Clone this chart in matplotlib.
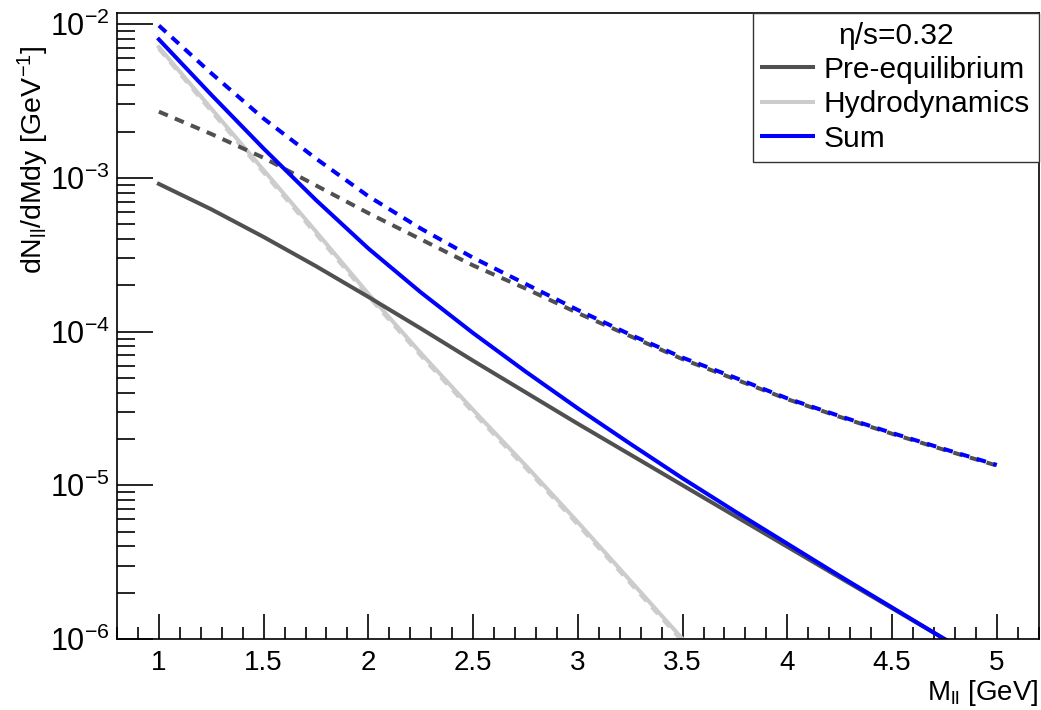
import numpy as np
import matplotlib
matplotlib.use('Agg')
import matplotlib.pyplot as plt
from matplotlib.ticker import FixedLocator, LogLocator, FuncFormatter, NullFormatter

plt.rcParams['font.family'] = ['Liberation Sans', 'DejaVu Sans']
plt.rcParams['mathtext.fontset'] = 'custom'
plt.rcParams['mathtext.rm'] = 'Liberation Sans'
plt.rcParams['mathtext.default'] = 'regular'

# invariant mass grid [GeV]
mass = [1.0, 1.25, 1.5, 1.75, 2.0, 2.25, 2.5, 2.75, 3.0, 3.25, 3.5, 3.75, 4.0, 4.25, 4.5, 4.75, 5.0]

# log10 of dN/dMdy
pre_solid = [-3.04, -3.205, -3.385, -3.575, -3.775, -3.98, -4.19, -4.395, -4.60, -4.80, -5.00, -5.20, -5.40, -5.60, -5.80, -6.00, -6.20]
hydro_solid = [-2.15, -2.55, -2.95, -3.35, -3.755, -4.14, -4.51, -4.87, -5.24, -5.62, -6.00, -6.38, -6.76, -7.14, -7.52, -7.90, -8.28]
sum_solid = [-2.10, -2.46, -2.81, -3.145, -3.46, -3.745, -4.01, -4.26, -4.50, -4.73, -4.955, -5.17, -5.38, -5.59, -5.795, -6.00, -6.20]

pre_dash = [-2.57, -2.715, -2.87, -3.05, -3.23, -3.40, -3.57, -3.72, -3.88, -4.03, -4.18, -4.31, -4.44, -4.555, -4.665, -4.77, -4.872]
hydro_dash = [-2.16, -2.565, -2.965, -3.365, -3.77, -4.155, -4.525, -4.885, -5.255, -5.635, -6.015, -6.395, -6.775, -7.155, -7.535, -7.915, -8.295]
sum_dash = [-2.01, -2.32, -2.615, -2.875, -3.12, -3.33, -3.52, -3.69, -3.86, -4.02, -4.17, -4.30, -4.435, -4.55, -4.66, -4.765, -4.868]

legend_title = '\u03b7/s=0.32'
labels = ['Pre-equilibrium', 'Hydrodynamics', 'Sum']

c_pre = '#505050'
c_hydro = '#cccccc'
c_sum = '#0000ff'
lw = 2.9
dash = (2.4, 1.9)

fig = plt.figure(figsize=(10.41, 7.10), dpi=100)
ax = fig.add_axes([0.1124, 0.1, 0.8854, 0.8817])

m = np.array(mass)
ax.plot(m, 10**np.array(hydro_dash), color=c_hydro, lw=lw, dashes=dash)
h2, = ax.plot(m, 10**np.array(hydro_solid), color=c_hydro, lw=lw)
ax.plot(m, 10**np.array(pre_dash), color=c_pre, lw=lw, dashes=dash)
h1, = ax.plot(m, 10**np.array(pre_solid), color=c_pre, lw=lw)
ax.plot(m, 10**np.array(sum_dash), color=c_sum, lw=lw, dashes=dash)
h3, = ax.plot(m, 10**np.array(sum_solid), color=c_sum, lw=lw)

ax.set_yscale('log')
ax.set_xlim(0.8, 5.2)
ax.set_ylim(1e-6, 1.18e-2)

ax.xaxis.set_major_locator(FixedLocator([1, 1.5, 2, 2.5, 3, 3.5, 4, 4.5, 5]))
ax.xaxis.set_minor_locator(FixedLocator(np.arange(0.8, 5.21, 0.1)))
ax.xaxis.set_major_formatter(FuncFormatter(lambda v, p: ('%g' % v)))
ax.yaxis.set_major_locator(LogLocator(base=10, numticks=10))
ax.yaxis.set_minor_locator(LogLocator(base=10, subs=np.arange(2, 10), numticks=10))
ax.yaxis.set_minor_formatter(NullFormatter())
ax.yaxis.set_major_formatter(FuncFormatter(lambda v, p: r'$10^{%d}$' % round(np.log10(v))))

ax.tick_params(axis='x', which='major', direction='in', length=18, width=1.2, labelsize=20, pad=8)
ax.tick_params(axis='x', which='minor', direction='in', length=9, width=1.2)
ax.tick_params(axis='y', which='major', direction='in', length=26, width=1.2, labelsize=22, pad=5)
ax.tick_params(axis='y', which='minor', direction='in', length=13, width=1.2)
for s in ax.spines.values():
    s.set_linewidth(1.2)

ax.set_ylabel(r'dN$_{ll}$/dMdy [GeV$^{-1}$]', fontsize=20.5)
ax.yaxis.set_label_coords(-0.072, 0.765)
ax.set_xlabel(r'M$_{ll}$ [GeV]', fontsize=20, ha='right', va='top')
ax.xaxis.set_label_coords(1.0, -0.062)

leg = ax.legend([h1, h2, h3], labels, title=legend_title, loc='upper right',
                bbox_to_anchor=(1.0, 1.0), borderaxespad=0, fancybox=False,
                edgecolor='#333333', fontsize=21.5, title_fontsize=21.5,
                handlelength=1.7, handletextpad=0.35, labelspacing=0.22,
                borderpad=0.3, framealpha=1)
leg.get_frame().set_linewidth(1.0)
leg._legend_box.sep = 4

fig.savefig('out.png', dpi=100)
